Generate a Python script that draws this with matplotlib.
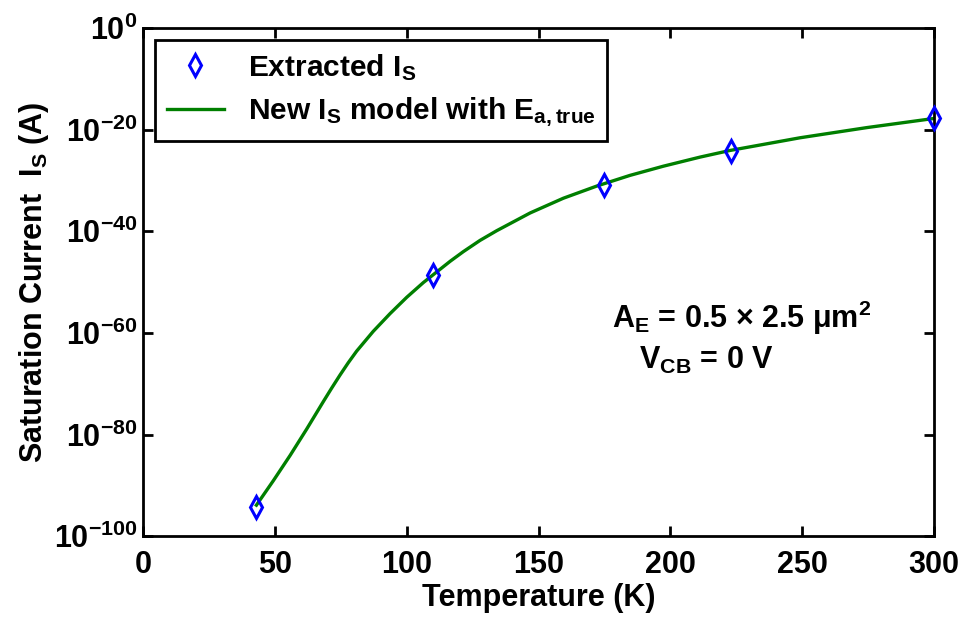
import numpy as np
import matplotlib
matplotlib.use('Agg')
import matplotlib.pyplot as plt
from matplotlib.ticker import FixedLocator, NullLocator, FuncFormatter

plt.rcParams['font.family'] = ['Liberation Sans', 'DejaVu Sans']
plt.rcParams['font.weight'] = 'bold'
plt.rcParams['mathtext.fontset'] = 'custom'
plt.rcParams['mathtext.rm'] = 'Liberation Sans:bold'
plt.rcParams['mathtext.bf'] = 'Liberation Sans:bold'
plt.rcParams['mathtext.it'] = 'Liberation Sans:bold'

# extracted saturation current, log10(A)
temp_pts = [43, 110, 175, 223, 300]
log_is_pts = [-94.3, -48.6, -30.9, -24.3, -17.7]

# model curve, log10(A)
model_temp = [43, 49.4, 55.8, 62.1, 68.4, 71.5, 74.7, 77.8, 81.0, 87.3, 93.7,
              100.0, 106.3, 111.4, 116.5, 121.5, 127.8, 134.1, 146.8, 159.4,
              172.1, 184.7, 197.3, 211.3, 222.6, 249.2, 274.5, 300]
model_log_is = [-93.9, -89.1, -84.1, -78.9, -73.5, -70.9, -68.3, -65.9, -63.6,
                -59.7, -56.2, -53.0, -50.1, -48.0, -45.9, -44.0, -41.8, -39.9,
                -36.4, -33.5, -31.1, -29.0, -27.2, -25.4, -24.1, -21.6, -19.6,
                -17.8]

xticks = [0, 50, 100, 150, 200, 250, 300]
yticks_exp = [0, -20, -40, -60, -80, -100]

fig = plt.figure(figsize=(9.63, 6.22), dpi=100)
ax = fig.add_subplot(1, 1, 1)
fig.subplots_adjust(left=0.1485, right=0.970, top=0.955, bottom=0.138)

ax.semilogy(model_temp, 10.0 ** np.array(model_log_is), '-', color='#007f00',
            lw=2.4, label=r'New $\mathbf{I_S}$ model with $\mathbf{E_{a,true}}$', zorder=2)
ax.semilogy(temp_pts, 10.0 ** np.array(log_is_pts), 'd', color='#0000ff',
            mfc='none', mec='#0000ff', ms=11, mew=2.2,
            label=r'Extracted $\mathbf{I_S}$', zorder=3, clip_on=False)

ax.set_xlim(0, 300)
ax.set_ylim(1e-100, 1e0)
ax.xaxis.set_major_locator(FixedLocator(xticks))
ax.yaxis.set_major_locator(FixedLocator([10.0 ** e for e in yticks_exp]))
ax.yaxis.set_minor_locator(NullLocator())
ax.yaxis.set_major_formatter(FuncFormatter(
    lambda v, p: r'$\mathbf{10^{%d}}$' % int(round(np.log10(v)))))

for s in ax.spines.values():
    s.set_linewidth(2)
ax.tick_params(which='both', direction='in', top=True, right=True,
               length=7, width=2, labelsize=22)
ax.tick_params(axis='x', pad=10)
ax.tick_params(axis='y', pad=4)

ax.set_xlabel('Temperature (K)', fontsize=22, fontweight='bold', labelpad=2)
ax.set_ylabel(r'Saturation Current  $\mathbf{I_S}$ (A)', fontsize=22,
              fontweight='bold', labelpad=2)

handles, labels = ax.get_legend_handles_labels()
leg = ax.legend(handles[::-1], labels[::-1], loc='upper left',
                bbox_to_anchor=(0.0, 1.0), fontsize=21.5, frameon=True,
                fancybox=False, edgecolor='black', framealpha=1,
                handlelength=1.9, borderpad=0.4, labelspacing=0.45,
                handletextpad=0.8, borderaxespad=0.4)
leg.get_frame().set_linewidth(2)

ax.text(178, 10.0 ** -57.0, r'$\mathbf{A_E}$ = 0.5 $\times$ 2.5 μm$\mathbf{^2}$',
        fontsize=22, fontweight='bold', ha='left', va='center')
ax.text(188, 10.0 ** -65.5, r'$\mathbf{V_{CB}}$ = 0 V',
        fontsize=22, fontweight='bold', ha='left', va='center')

fig.savefig('out.png', dpi=100)
